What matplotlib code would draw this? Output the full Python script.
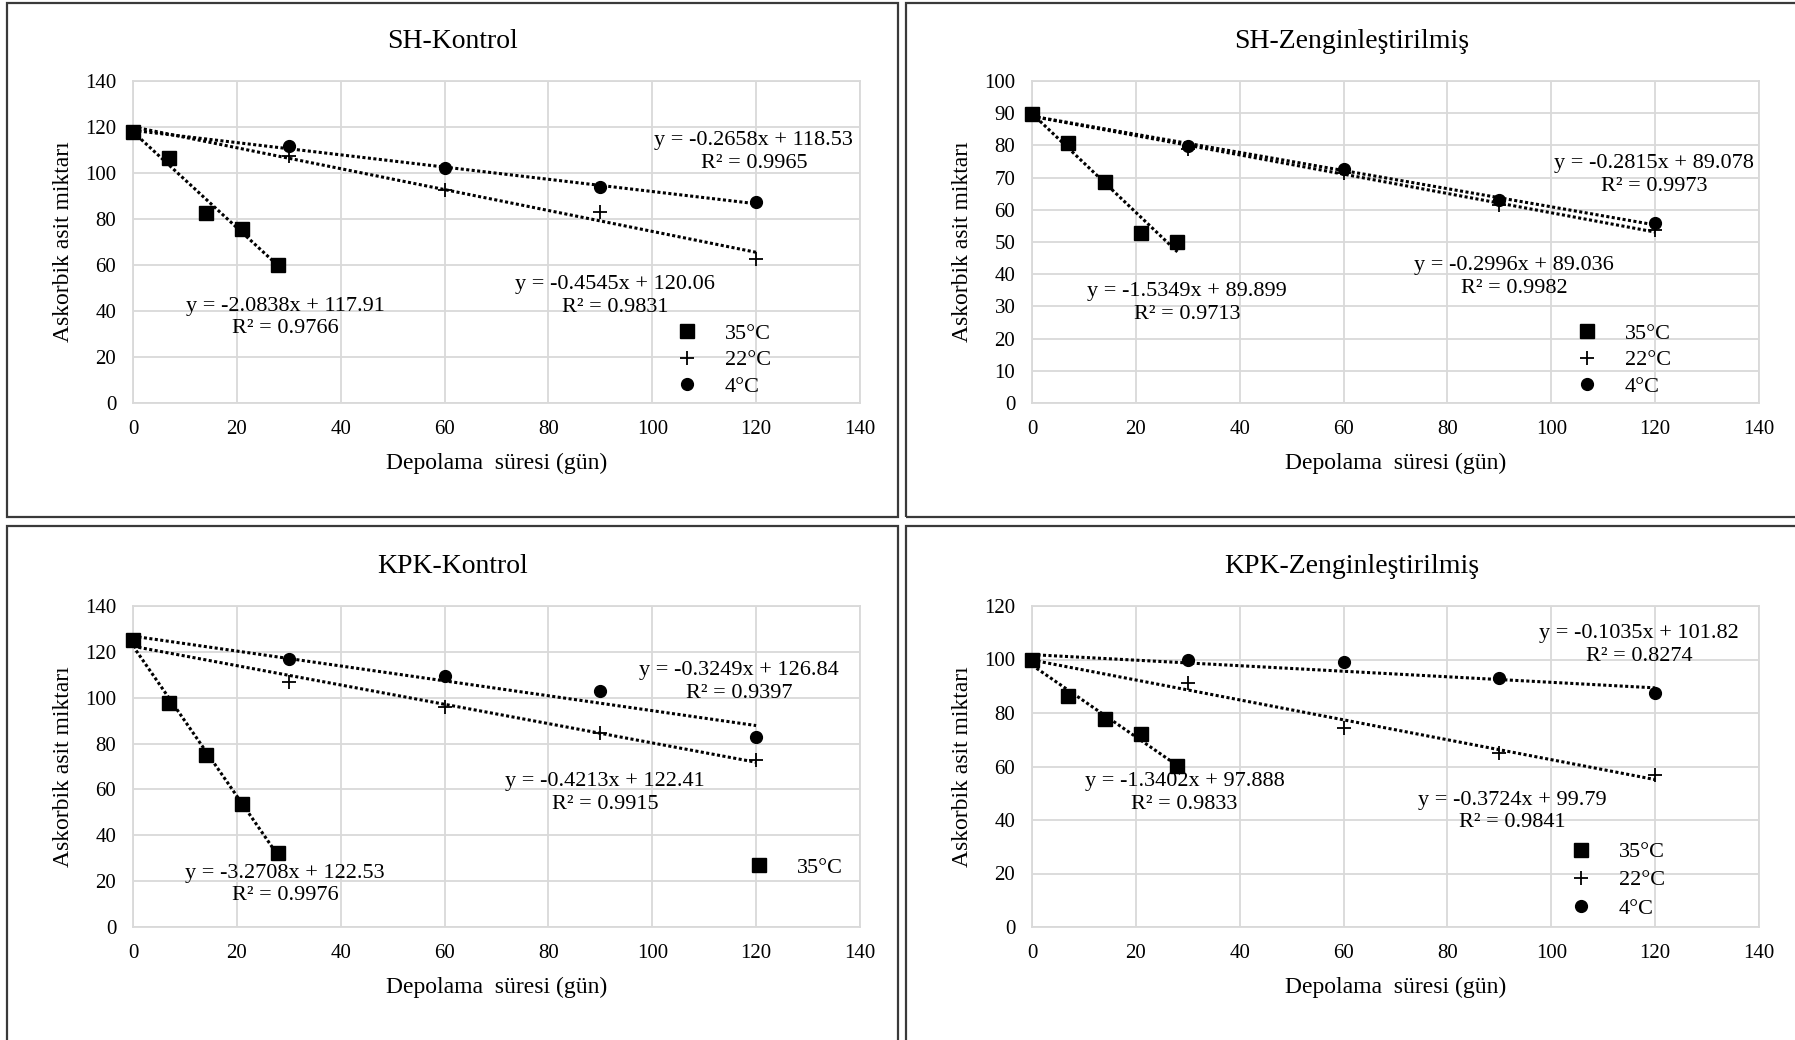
import matplotlib
matplotlib.use("Agg")
import matplotlib.pyplot as plt
from matplotlib.patches import Rectangle

plt.rcParams['font.family'] = ['Liberation Serif', 'DejaVu Serif']

# storage days
days_35 = [0, 7, 14, 21, 28]
days_cold = [0, 30, 60, 90, 120]

# SH-Kontrol
sh_k_35 = [117.7, 106.7, 82.5, 75.6, 59.8]
sh_k_22 = [117.7, 107.4, 92.4, 83.0, 62.4]
sh_k_4 = [117.7, 111.8, 102.1, 93.7, 87.3]
sh_k_fit = [(-2.0838, 117.91, 0.9766), (-0.4545, 120.06, 0.9831), (-0.2658, 118.53, 0.9965)]

# SH-Zenginleştirilmiş
sh_z_35 = [89.8, 80.7, 68.6, 52.7, 49.9]
sh_z_22 = [89.8, 78.9, 71.4, 61.4, 53.6]
sh_z_4 = [89.8, 79.9, 72.6, 63.1, 56.0]
sh_z_fit = [(-1.5349, 89.899, 0.9713), (-0.2996, 89.036, 0.9982), (-0.2815, 89.078, 0.9973)]

# KPK-Kontrol
kpk_k_35 = [125.2, 97.6, 75.1, 53.7, 32.2]
kpk_k_22 = [125.2, 106.7, 96.1, 84.5, 72.9]
kpk_k_4 = [125.2, 116.8, 109.5, 103.1, 82.8]
kpk_k_fit = [(-3.2708, 122.53, 0.9976), (-0.4213, 122.41, 0.9915), (-0.3249, 126.84, 0.9397)]

# KPK-Zenginleştirilmiş
kpk_z_35 = [99.8, 86.4, 77.6, 72.2, 60.3]
kpk_z_22 = [99.8, 91.1, 74.3, 65.0, 56.9]
kpk_z_4 = [99.8, 99.8, 99.2, 93.2, 87.6]
kpk_z_fit = [(-1.3402, 97.888, 0.9833), (-0.3724, 99.79, 0.9841), (-0.1035, 101.82, 0.8274)]

titles = ['SH-Kontrol', 'SH-Zenginleştirilmiş', 'KPK-Kontrol', 'KPK-Zenginleştirilmiş']
series_labels = ['35°C', '22°C', '4°C']
y_tops = [140, 100, 140, 120]
y_steps = [20, 10, 20, 20]
legend_counts = [3, 3, 1, 3]

panels = [
    (sh_k_35, sh_k_22, sh_k_4, sh_k_fit),
    (sh_z_35, sh_z_22, sh_z_4, sh_z_fit),
    (kpk_k_35, kpk_k_22, kpk_k_4, kpk_k_fit),
    (kpk_z_35, kpk_z_22, kpk_z_4, kpk_z_fit),
]

# layout (figure pixels, measured from top-left)
W, H = 1795, 1040
axes_px = [(133, 81, 727, 322), (1032, 81, 727, 322), (133, 606, 727, 321), (1032, 606, 727, 321)]
frames_px = [(7, 3, 891, 514), (906, 3, 900, 514), (7, 526, 891, 520), (906, 526, 900, 520)]
# equation label centres in axes fraction: 35, 22, 4 °C
eq_pos = [
    [(0.210, 0.266), (0.663, 0.332), (0.854, 0.779)],
    [(0.213, 0.311), (0.663, 0.391), (0.856, 0.708)],
    [(0.209, 0.132), (0.649, 0.417), (0.834, 0.763)],
    [(0.210, 0.417), (0.660, 0.360), (0.835, 0.879)],
]
legend_pos = [(0.7465, 0.1335), (0.748, 0.1335), (0.846, 0.184), (0.740, 0.146)]
legend_gap = [0.27, 0.27, 0.27, 0.34]

markers = [dict(marker='s', markersize=10),
           dict(marker='+', markersize=10.5, markeredgewidth=1.3),
           dict(marker='o', markersize=8.5)]

fig = plt.figure(figsize=(W / 100, H / 100), dpi=100)

for (fx, fy, fw, fh) in frames_px:
    fig.add_artist(Rectangle((fx / W, 1 - (fy + fh) / H), fw / W, fh / H,
                             transform=fig.transFigure, fill=False,
                             edgecolor='#3a3a3a', linewidth=1.6))

for i, (s35, s22, s4, fits) in enumerate(panels):
    left, top, w, h = axes_px[i]
    ax = fig.add_axes([left / W, 1 - (top + h) / H, w / W, h / H])
    ax.set_xlim(0, 140)
    ax.set_ylim(0, y_tops[i])
    ax.set_xticks(range(0, 141, 20))
    ax.set_yticks(range(0, y_tops[i] + 1, y_steps[i]))
    ax.grid(True, color='#d9d9d9', linewidth=1.3)
    ax.set_axisbelow(True)
    for sp in ax.spines.values():
        sp.set_color('#d9d9d9')
        sp.set_linewidth(1.3)
    ax.tick_params(length=0, labelsize=15, pad=12)

    xs = [days_35, days_cold, days_cold]
    ys = [s35, s22, s4]
    handles = []
    for k in range(3):
        m, b, r2 = fits[k]
        x0, x1 = xs[k][0], xs[k][-1]
        # linear trendline from the fitted equation
        ax.plot([x0, x1], [m * x0 + b, m * x1 + b], color='black',
                linewidth=2.2, linestyle=(0, (1, 0.8)), zorder=2, clip_on=False)
        h_ = ax.plot(xs[k], ys[k], linestyle='none', color='black',
                     clip_on=False, zorder=3, **markers[k])[0]
        handles.append(h_)
        ex, ey = eq_pos[i][k]
        ax.text(ex, ey, f"y = {m:g}x + {b:g}\nR² = {r2:g}", transform=ax.transAxes,
                ha='center', va='center', fontsize=16, linespacing=1.25)

    n = legend_counts[i]
    ax.legend(handles[:n], series_labels[:n], loc='center left',
              bbox_to_anchor=legend_pos[i], frameon=False, fontsize=16,
              borderpad=0, borderaxespad=0, handlelength=1.0,
              handletextpad=1.2, labelspacing=legend_gap[i])

    ax.set_title(titles[i], fontsize=20, x=0.44, pad=24)
    ax.set_xlabel('Depolama  süresi (gün)', fontsize=17, labelpad=10)
    ax.set_ylabel('Askorbik asit miktarı', fontsize=17, labelpad=8)

plt.savefig('out.png', dpi=100)
